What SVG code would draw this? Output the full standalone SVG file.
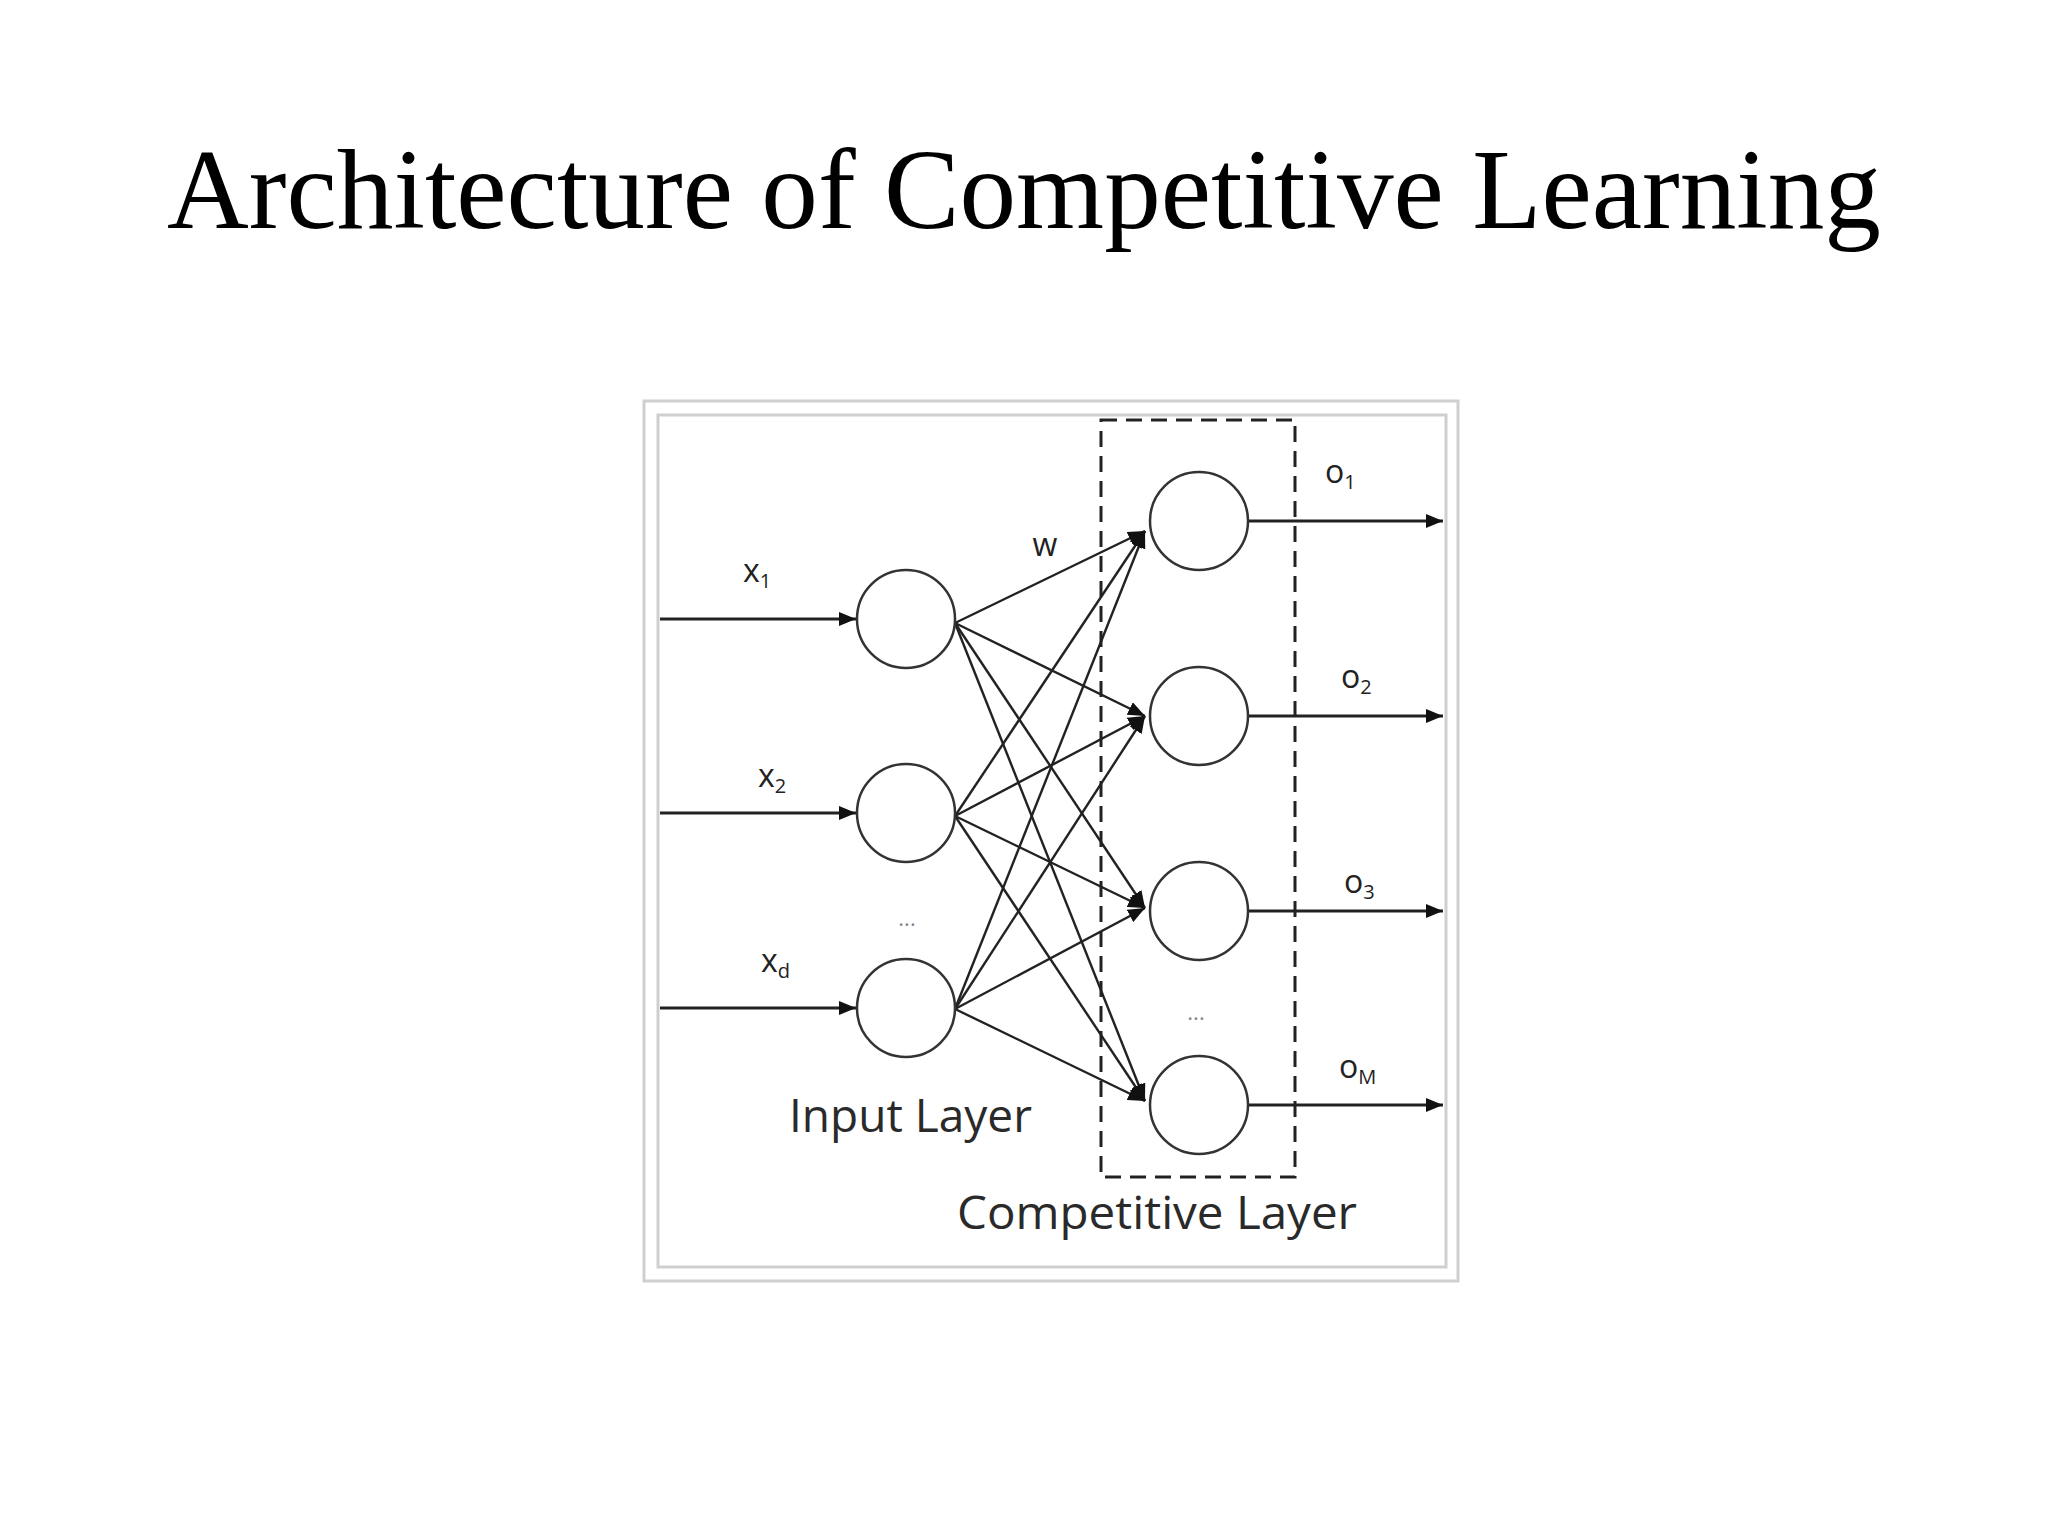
<svg xmlns="http://www.w3.org/2000/svg" width="2048" height="1536" viewBox="0 0 2048 1536">
  <style>
    .title { font-family: "Liberation Serif", "Times New Roman", serif; font-size: 114px; fill: #000; }
    .frame { fill: none; stroke: #cfcfcf; stroke-width: 3; }
    .node { fill: #fff; stroke: #333; stroke-width: 2.5; }
    .edge { stroke: #222; stroke-width: 2.4; fill: none; }
    .edge-io { stroke: #222; stroke-width: 2.8; fill: none; }
    .lbl { font-family: "Open Sans", "Noto Sans", "DejaVu Sans", sans-serif; font-size: 32px; fill: #222; }
    .sub { font-size: 20px; }
    .layer { font-family: "Open Sans", "Noto Sans", "DejaVu Sans", sans-serif; font-size: 46px; fill: #2a2a2a; }
    .dots { font-family: "Open Sans", "Noto Sans", "DejaVu Sans", sans-serif; font-size: 22px; fill: #888; }
    .group-box { fill: none; stroke: #222; stroke-width: 3; stroke-dasharray: 16 9; }
  </style>
  <defs>
    <marker id="arrow" markerUnits="userSpaceOnUse" markerWidth="18" markerHeight="14" refX="17" refY="7" orient="auto">
      <path d="M0,0 L17,7 L0,14 z" fill="#111"/>
    </marker>
  </defs>

  <rect width="2048" height="1536" fill="#fff"/>

  <text class="title" x="1024" y="228" text-anchor="middle" textLength="1714" lengthAdjust="spacingAndGlyphs">Architecture of Competitive Learning</text>

  <g id="frame">
    <rect class="frame" x="644" y="401" width="814" height="880"/>
    <rect class="frame" x="658" y="415" width="788" height="852"/>
  </g>

  <g id="competitive-layer-box">
    <rect class="group-box" x="1101" y="420" width="194" height="757"/>
  </g>

  <g id="connectors">
    <!-- inputs -->
    <line class="edge-io" x1="660" y1="619" x2="856" y2="619" marker-end="url(#arrow)"/>
    <line class="edge-io" x1="660" y1="813" x2="856" y2="813" marker-end="url(#arrow)"/>
    <line class="edge-io" x1="660" y1="1008" x2="856" y2="1008" marker-end="url(#arrow)"/>
    <!-- weights from input 1 -->
    <line class="edge" x1="955" y1="623" x2="1145" y2="531" marker-end="url(#arrow)"/>
    <line class="edge" x1="955" y1="623" x2="1145" y2="716" marker-end="url(#arrow)"/>
    <line class="edge" x1="955" y1="623" x2="1145" y2="908" marker-end="url(#arrow)"/>
    <line class="edge" x1="955" y1="623" x2="1145" y2="1101" marker-end="url(#arrow)"/>
    <!-- weights from input 2 -->
    <line class="edge" x1="955" y1="816" x2="1145" y2="531" marker-end="url(#arrow)"/>
    <line class="edge" x1="955" y1="816" x2="1145" y2="716" marker-end="url(#arrow)"/>
    <line class="edge" x1="955" y1="816" x2="1145" y2="908" marker-end="url(#arrow)"/>
    <line class="edge" x1="955" y1="816" x2="1145" y2="1101" marker-end="url(#arrow)"/>
    <!-- weights from input d -->
    <line class="edge" x1="955" y1="1009" x2="1145" y2="531" marker-end="url(#arrow)"/>
    <line class="edge" x1="955" y1="1009" x2="1145" y2="716" marker-end="url(#arrow)"/>
    <line class="edge" x1="955" y1="1009" x2="1145" y2="908" marker-end="url(#arrow)"/>
    <line class="edge" x1="955" y1="1009" x2="1145" y2="1101" marker-end="url(#arrow)"/>
    <!-- outputs -->
    <line class="edge-io" x1="1248" y1="521" x2="1443" y2="521" marker-end="url(#arrow)"/>
    <line class="edge-io" x1="1248" y1="716" x2="1443" y2="716" marker-end="url(#arrow)"/>
    <line class="edge-io" x1="1248" y1="911" x2="1443" y2="911" marker-end="url(#arrow)"/>
    <line class="edge-io" x1="1248" y1="1105" x2="1443" y2="1105" marker-end="url(#arrow)"/>
  </g>

  <g id="input-1"><circle class="node" cx="906" cy="619" r="49"/></g>
  <g id="input-2"><circle class="node" cx="906" cy="813" r="49"/></g>
  <g id="input-d"><circle class="node" cx="906" cy="1008" r="49"/></g>

  <g id="comp-1"><circle class="node" cx="1199" cy="521" r="49"/></g>
  <g id="comp-2"><circle class="node" cx="1199" cy="716" r="49"/></g>
  <g id="comp-3"><circle class="node" cx="1199" cy="911" r="49"/></g>
  <g id="comp-M"><circle class="node" cx="1199" cy="1105" r="49"/></g>

  <g id="labels">
    <text class="lbl" x="743" y="582">x<tspan class="sub" dy="6">1</tspan></text>
    <text class="lbl" x="758" y="787">x<tspan class="sub" dy="6">2</tspan></text>
    <text class="lbl" x="761" y="972">x<tspan class="sub" dy="6">d</tspan></text>
    <text class="lbl" x="1045" y="556" text-anchor="middle">w</text>
    <text class="lbl" x="1325" y="483">o<tspan class="sub" dy="6">1</tspan></text>
    <text class="lbl" x="1341" y="688">o<tspan class="sub" dy="6">2</tspan></text>
    <text class="lbl" x="1344" y="893">o<tspan class="sub" dy="6">3</tspan></text>
    <text class="lbl" x="1339" y="1078">o<tspan class="sub" dy="6">M</tspan></text>
    <text class="dots" x="907" y="926" text-anchor="middle">...</text>
    <text class="dots" x="1196" y="1020" text-anchor="middle">...</text>
    <text class="layer" x="789" y="1132" textLength="243" lengthAdjust="spacingAndGlyphs">Input Layer</text>
    <text class="layer" x="957" y="1229" textLength="400" lengthAdjust="spacingAndGlyphs">Competitive Layer</text>
  </g>
</svg>
